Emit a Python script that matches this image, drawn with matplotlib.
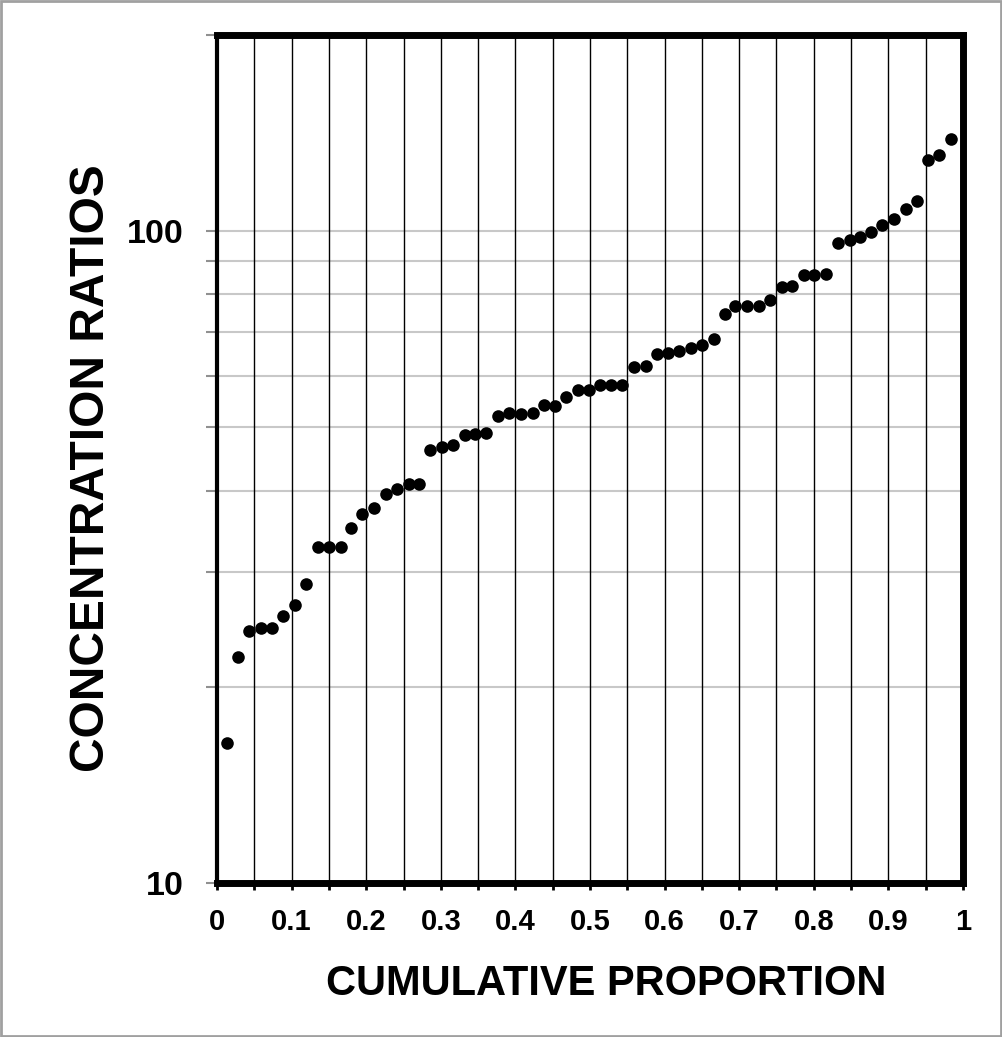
import matplotlib
matplotlib.use("Agg")
import matplotlib.pyplot as plt
from matplotlib.ticker import FixedLocator, NullFormatter, FixedFormatter
from matplotlib.patches import Rectangle

# Data
cum_prop = [0.013, 0.028, 0.043, 0.059, 0.074, 0.089, 0.104, 0.119, 0.135, 0.150,
            0.166, 0.179, 0.195, 0.210, 0.226, 0.241, 0.257, 0.271, 0.285, 0.302,
            0.317, 0.332, 0.346, 0.361, 0.377, 0.392, 0.408, 0.423, 0.438, 0.453,
            0.468, 0.484, 0.499, 0.514, 0.528, 0.543, 0.559, 0.575, 0.590, 0.605,
            0.619, 0.635, 0.650, 0.666, 0.681, 0.695, 0.711, 0.726, 0.741, 0.757,
            0.771, 0.787, 0.801, 0.817, 0.832, 0.848, 0.862, 0.877, 0.892, 0.907,
            0.924, 0.939, 0.953, 0.968, 0.984]
conc_ratio = [16.4, 22.2, 24.4, 24.6, 24.6, 25.7, 26.7, 28.8, 32.8, 32.8,
              32.8, 35.0, 36.8, 37.6, 39.5, 40.2, 41.0, 41.0, 46.1, 46.6,
              47.0, 48.7, 48.9, 49.0, 52.1, 52.6, 52.4, 52.7, 54.1, 54.0,
              55.6, 57.1, 57.0, 58.0, 58.1, 58.1, 61.8, 62.2, 64.8, 65.0,
              65.6, 66.2, 67.0, 68.3, 74.7, 76.9, 76.9, 76.9, 78.4, 82.0,
              82.5, 85.8, 85.8, 86.0, 96.1, 96.9, 98.0, 99.9, 102.3, 104.4,
              108.3, 111.3, 128.6, 130.9, 138.3]

x_ticks = [0, 0.1, 0.2, 0.3, 0.4, 0.5, 0.6, 0.7, 0.8, 0.9, 1]
x_tick_labels = ["0", "0.1", "0.2", "0.3", "0.4", "0.5", "0.6", "0.7", "0.8", "0.9", "1"]
x_grid = [0.05 * i for i in range(1, 20)]
y_major = [10, 100]
y_major_labels = ["10", "100"]
y_minor = [20, 30, 40, 50, 60, 70, 80, 90, 200]
y_grid = [20, 30, 40, 50, 60, 70, 80, 90, 100]

plt.rcParams['font.family'] = ['Liberation Sans', 'DejaVu Sans']

fig = plt.figure(figsize=(10.02, 10.37), dpi=100)
ax = fig.add_axes([0.2166, 0.1485, 0.961 - 0.2166, 0.9662 - 0.1485])

ax.set_yscale('log')
ax.set_xlim(0, 1)
ax.set_ylim(10, 200)

for xv in x_grid:
    ax.axvline(xv, color='black', lw=1.0, zorder=1)
for yv in y_grid:
    ax.axhline(yv, color='#c8c8c8', lw=1.5, zorder=0.5)

ax.scatter(cum_prop, conc_ratio, s=82, color='black', zorder=3, linewidths=0)

ax.xaxis.set_major_locator(FixedLocator(x_ticks))
ax.xaxis.set_major_formatter(FixedFormatter(x_tick_labels))
ax.xaxis.set_minor_locator(FixedLocator([0.05 + 0.1 * i for i in range(10)]))
ax.tick_params(axis='x', which='both', direction='out', length=5, width=2,
               color='black', pad=13, labelsize=21)
for lbl in ax.get_xticklabels():
    lbl.set_fontweight('bold')

ax.yaxis.set_major_locator(FixedLocator(y_major))
ax.yaxis.set_major_formatter(FixedFormatter(y_major_labels))
ax.yaxis.set_minor_locator(FixedLocator(y_minor))
ax.yaxis.set_minor_formatter(NullFormatter())
ax.tick_params(axis='y', which='both', direction='out', length=8, width=1.5,
               color='#909090', pad=16, labelsize=24.5)
for lbl in ax.get_yticklabels():
    lbl.set_fontweight('bold')

for side, w in [('top', 5), ('right', 5), ('bottom', 5), ('left', 3)]:
    ax.spines[side].set_linewidth(w)
    ax.spines[side].set_color('black')
    ax.spines[side].set_zorder(5)

fig.text(0.605, 0.051, "CUMULATIVE PROPORTION", ha='center', va='center',
         fontsize=30, fontweight='bold')
fig.text(0.091, 0.549, "CONCENTRATION RATIOS", ha='center', va='center',
         rotation=90, fontsize=34.5, fontweight='bold')

fig.patches.append(Rectangle((0.001, 0.001), 0.998, 0.998, transform=fig.transFigure,
                             fill=False, edgecolor='#a0a0a0', lw=2))

fig.savefig("out.png", dpi=100, facecolor='white')
